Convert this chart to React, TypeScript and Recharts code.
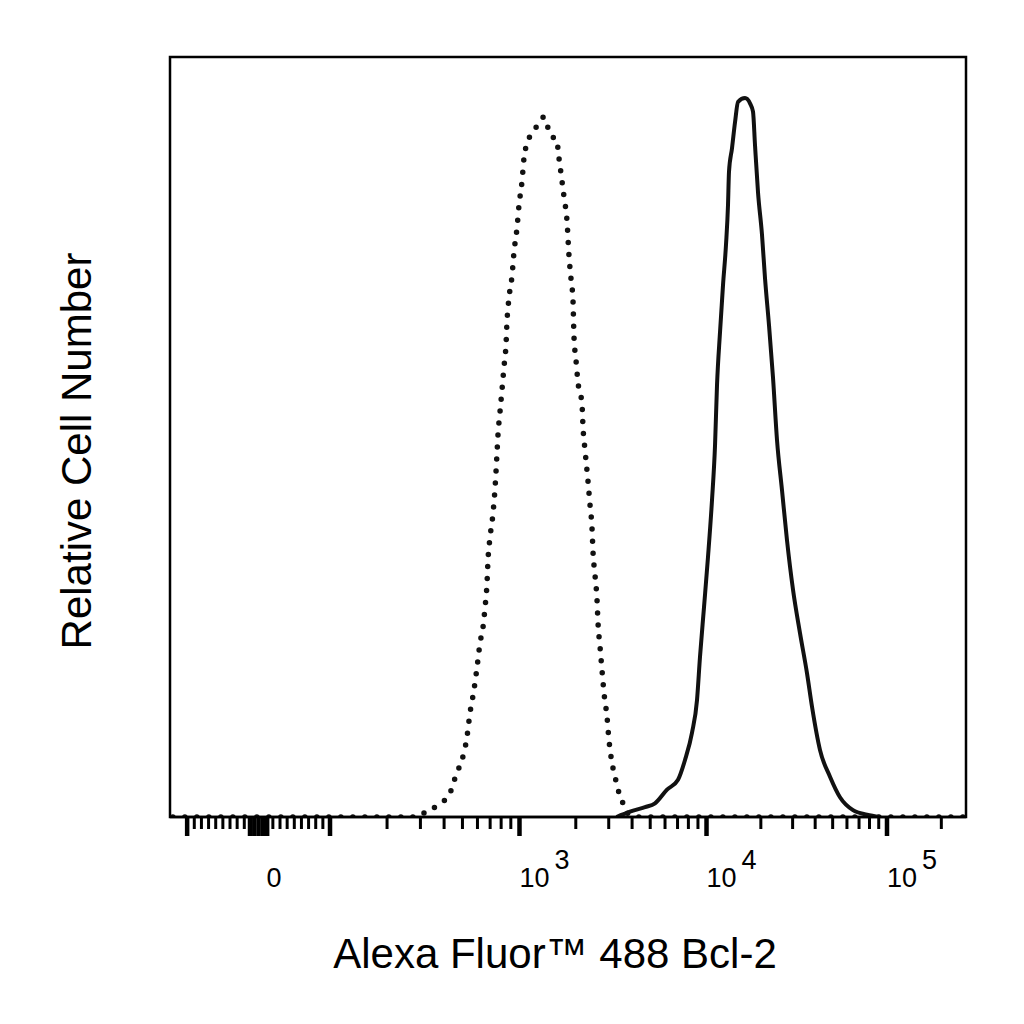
import React from 'react';
import { LineChart, Line, XAxis, YAxis, ReferenceArea } from 'recharts';

// Alexa Fluor 488 intensity (biexponential axis) and relative cell number (% of plot height)
const controlIntensity = [
  -120, 280, 299, 337, 381, 425, 468, 497, 528, 548, 575, 597,
  619, 642, 658, 674, 682, 699, 725, 743, 761, 770,
  789, 809, 828, 849, 859, 880, 913, 935, 970, 994,
  1031, 1057, 1083, 1138, 1240, 1352, 1420, 1492, 1587, 1607,
  1667, 1730, 1795, 1840, 1886, 1932, 1956, 2005, 2055, 2159,
  2186, 2240, 2324, 2382, 2442, 2472, 2534, 2597, 2630, 2695,
  2762, 2831, 2937, 3010, 3124, 3242, 3364, 3532, 3665, 3899,
  4300, 270000,
];
const controlCount = [
  0, 0, 0.3, 0.9, 1.8, 2.9, 5.9, 7.5, 10.5, 13.7, 16.7, 19.7,
  22.9, 25.0, 27.6, 30.8, 33.8, 36.8, 40.0, 43.3, 47.9, 50.3,
  53.3, 56.3, 59.2, 62.2, 65.1, 68.3, 71.2, 74.3, 77.5, 80.5,
  83.6, 86.7, 88.2, 89.6, 90.9, 92.1, 90.7, 89.5, 89.2, 87.8,
  84.7, 81.6, 78.4, 73.8, 70.8, 68.0, 63.2, 60.1, 57.2, 54.3,
  51.3, 48.3, 44.2, 41.1, 38.0, 34.9, 31.8, 28.6, 25.5, 22.4,
  19.3, 16.3, 13.2, 10.1, 7.1, 5.3, 3.6, 2.2, 0.9, 0.3,
  0, 0,
];

const bcl2Intensity = [
  3300, 3899, 4691, 5303, 6149, 7041, 7674, 8366, 8897, 9231,
  9696, 10190, 10726, 11147, 11432, 11880, 12343, 12823, 13154, 13322,
  13844, 14386, 14950, 16343, 17418, 18097, 18566, 19290, 20299, 21090,
  22195, 23358, 24581, 26198, 27925, 30150, 32961, 36050, 38421, 42552,
  48329, 54896, 64800, 77480, 91460,
];
const bcl2Count = [
  0, 0.7, 1.3, 1.8, 3.6, 4.9, 7.5, 11.1, 15.4, 21.1,
  27.6, 34.2, 41.7, 48.9, 56.8, 63.8, 70.0, 75.3, 80.5, 84.9,
  88.0, 91.4, 94.1, 94.6, 93.9, 92.8, 88.4, 82.2, 76.6, 70.9,
  64.7, 57.8, 49.6, 43.0, 36.4, 29.9, 24.2, 18.9, 14.5, 8.8,
  5.3, 2.6, 0.9, 0.3, 0,
];

const X_MIN = -124;
const X_MAX = 274000;

const majorTicks = [-100, 100, 1000, 10000, 100000];
const zeroTicks = [-12, -6, 0, 6, 12];
const minorTicks = [
  -90, -80, -70, -60, -50, -40, -30, -20,
  20, 30, 40, 50, 60, 70, 80, 90,
  200, 300, 400, 500, 600, 700, 800, 900,
  2000, 3000, 4000, 5000, 6000, 7000, 8000, 9000,
  20000, 30000, 40000, 50000, 60000, 70000, 80000, 90000,
  200000,
];
const tickLabels = [
  { value: 0, base: '0', exp: '' },
  { value: 1000, base: '10', exp: '3' },
  { value: 10000, base: '10', exp: '4' },
  { value: 100000, base: '10', exp: '5' },
];

const X_TITLE = 'Alexa Fluor™ 488 Bcl-2';
const Y_TITLE = 'Relative Cell Number';

// biexponential-like display scale: linear for |v| <= 100, then log decades
const LINEAR_SPAN = 0.377; // width of 0..100 in display units
const DECADE_SPANS = [1, 0.987, 0.9525];

function toDisplay(v: number) {
  if (v <= 100) return (v / 100) * LINEAR_SPAN;
  let pos = LINEAR_SPAN;
  let d = Math.log10(v) - 2;
  let i = 0;
  while (d > 0) {
    const span = DECADE_SPANS[Math.min(i, DECADE_SPANS.length - 1)];
    pos += Math.min(d, 1) * span;
    d -= 1;
    i += 1;
  }
  return pos;
}

const controlData = controlIntensity.map((v, i) => ({ x: toDisplay(v), y: controlCount[i] }));
const bcl2Data = bcl2Intensity.map((v, i) => ({ x: toDisplay(v), y: bcl2Count[i] }));

const tickInfo = new Map<number, { len: number; w: number; label?: { base: string; exp: string } }>();
minorTicks.forEach((v) => tickInfo.set(toDisplay(v), { len: 12, w: 3 }));
majorTicks.forEach((v) => tickInfo.set(toDisplay(v), { len: 19, w: 4.5 }));
zeroTicks.forEach((v) => tickInfo.set(toDisplay(v), { len: 19, w: 4.5 }));
tickLabels.forEach((t) => {
  const key = toDisplay(t.value);
  const prev = tickInfo.get(key) ?? { len: 19, w: 4.5 };
  tickInfo.set(key, { ...prev, label: { base: t.base, exp: t.exp } });
});
const allTicks = Array.from(tickInfo.keys()).sort((a, b) => a - b);

const FONT = '"Liberation Sans", Arial, sans-serif';

function AxisTick(props: any) {
  const { x, y, payload } = props;
  const info = tickInfo.get(payload.value);
  if (!info) return null;
  return (
    <g>
      <line x1={x} x2={x} y1={y} y2={y + info.len} stroke="#000" strokeWidth={info.w} />
      {info.label && (
        <text fontFamily={FONT} fontSize={27} fill="#000">
          <tspan x={x + (info.label.exp ? 0 : 8)} y={y + 70}>{info.label.base}</tspan>
          {info.label.exp && (
            <tspan x={x + 35} y={y + 52}>{info.label.exp}</tspan>
          )}
        </text>
      )}
    </g>
  );
}

function Titles() {
  return (
    <g fontFamily={FONT} fontSize={42} fill="#000">
      <text x={555} y={968} textAnchor="middle">{X_TITLE}</text>
      <text x={91} y={451} transform="rotate(-90 91 451)" textAnchor="middle">{Y_TITLE}</text>
    </g>
  );
}

export default function App() {
  return (
    <div style={{ position: 'absolute', left: 0, top: 0, background: '#fff' }}>
      <LineChart width={1024} height={1024} margin={{ top: 57, right: 58, bottom: 127, left: 170 }}>
        <XAxis
          type="number"
          dataKey="x"
          domain={[toDisplay(X_MIN), toDisplay(X_MAX)]}
          allowDataOverflow
          ticks={allTicks}
          interval={0}
          tick={<AxisTick />}
          tickLine={false}
          tickSize={0}
          tickMargin={0}
          axisLine={{ stroke: '#000', strokeWidth: 2.5 }}
          height={80}
          label={{ content: () => <Titles /> }}
        />
        <YAxis type="number" domain={[0, 100]} allowDataOverflow hide />
        <ReferenceArea
          x1={toDisplay(X_MIN)}
          x2={toDisplay(X_MAX)}
          y1={0}
          y2={100}
          fill="none"
          stroke="#000"
          strokeWidth={2.5}
        />
        <Line
          data={controlData}
          dataKey="y"
          type="monotone"
          stroke="#111"
          strokeWidth={5.5}
          strokeDasharray="0 12"
          strokeLinecap="round"
          dot={false}
          isAnimationActive={false}
        />
        <Line
          data={bcl2Data}
          dataKey="y"
          type="monotone"
          stroke="#111"
          strokeWidth={4}
          dot={false}
          isAnimationActive={false}
        />
      </LineChart>
    </div>
  );
}
